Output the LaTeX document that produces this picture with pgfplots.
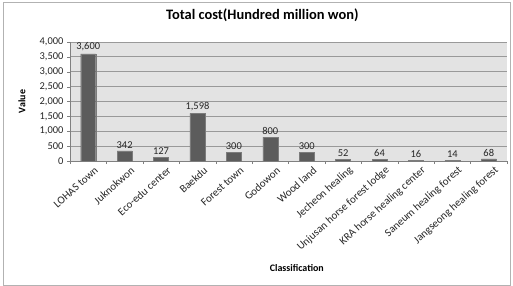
\documentclass[border=0pt]{standalone}
\usepackage{pgfplots}
\pgfplotsset{compat=1.18}
\usepackage{fontspec}
\setmainfont{Carlito}
\definecolor{bgc}{rgb}{0.89,0.89,0.89}
\definecolor{gridc}{rgb}{0.60,0.60,0.60}
\definecolor{barc}{rgb}{0.36,0.36,0.36}
\definecolor{txtc}{rgb}{0.15,0.15,0.15}
\begin{document}
\begin{tikzpicture}
\useasboundingbox (0bp,0bp) rectangle (513bp,286bp);
\draw[color=gray!60, line width=1bp] (3.5bp,1bp) rectangle (510bp,283bp);
\begin{axis}[
  at={(70bp,125bp)}, anchor=south west,
  scale only axis, width=437bp, height=119bp,
  xmin=-0.5, xmax=11.5, ymin=0, ymax=4000,
  ybar, bar width=15bp, clip=false,
  axis background/.style={fill=bgc},
  ytick={0,500,...,4000},
  xtick={0,...,11},
  xticklabels={LOHAS town,Juknokwon,Eco-edu center,Baekdu,Forest town,Godowon,Wood land,Jecheon healing,Unjusan horse forest lodge,KRA horse healing center,Saneum healing forest,Jangseong healing forest},
  minor xtick={-0.5,0.5,...,11.5},
  major x tick style={draw=none},
  tick align=outside, major tick length=3bp, minor tick length=3bp,
  tick style={color=gray},
  axis x line*=bottom, axis y line*=left,
  axis line style={color=gray, line width=0.8bp},
  ymajorgrids, major grid style={color=gridc, line width=0.9bp},
  /pgf/number format/assume math mode=true,
  /pgf/number format/1000 sep={,},
  yticklabel style={font=\fontsize{10.5}{11}\selectfont, color=txtc},
  xticklabel style={font=\fontsize{11}{12}\selectfont, color=txtc, rotate=42, anchor=east, inner sep=1bp, yshift=-9bp, xshift=4bp},
  title={\textbf{Total cost(Hundred million won)}},
  title style={font=\fontsize{14.5}{16}\selectfont, at={(axis description cs:0.44,1.227)}, anchor=center, yshift=-6pt},
  ylabel={\textbf{Value}},
  ylabel style={font=\fontsize{10}{11}\selectfont, at={(axis description cs:-0.11,0.5)}, anchor=center},
  xlabel={\textbf{Classification}},
  xlabel style={font=\fontsize{10}{11}\selectfont, at={(axis description cs:0.519,-0.9)}, anchor=center},
  nodes near coords={\pgfmathprintnumber[fixed,1000 sep={,}]{\pgfplotspointmeta}},
  nodes near coords style={font=\fontsize{10.5}{11}\selectfont, color=txtc, inner sep=2.5bp},
]
\addplot[fill=barc, draw=barc!80!white] coordinates {
(0,3600) (1,342) (2,127) (3,1598) (4,300) (5,800) (6,300) (7,52) (8,64) (9,16) (10,14) (11,68)};
\end{axis}
\end{tikzpicture}
\end{document}
